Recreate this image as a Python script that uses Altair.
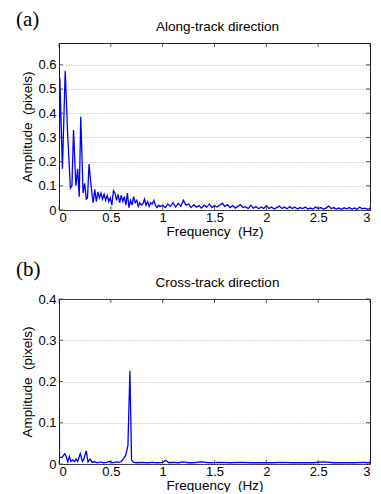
import altair as alt
import pandas as pd

# ---- Data ----
freq_a = [0.0, 0.008, 0.033, 0.06, 0.085, 0.11, 0.125, 0.14, 0.163, 0.18, 0.195, 0.21,
          0.232, 0.248, 0.263, 0.275, 0.29, 0.305, 0.32, 0.33, 0.345, 0.36, 0.375, 0.39,
          0.405, 0.42, 0.435, 0.45, 0.465, 0.48, 0.495, 0.51, 0.525, 0.54, 0.555, 0.57,
          0.585, 0.60, 0.615, 0.63, 0.645, 0.66, 0.675, 0.69, 0.705, 0.72, 0.735, 0.75,
          0.765, 0.78, 0.795, 0.81, 0.825, 0.84, 0.855, 0.87, 0.885, 0.90, 0.915, 0.93,
          0.945, 0.96, 0.975,
          1.0, 1.025, 1.05, 1.075, 1.1, 1.125, 1.15, 1.175, 1.2, 1.225, 1.25, 1.275,
          1.3, 1.325, 1.35, 1.375, 1.4, 1.425, 1.45, 1.475, 1.5, 1.525, 1.55, 1.575,
          1.6, 1.625, 1.65, 1.675, 1.7, 1.725, 1.75, 1.775, 1.8, 1.825, 1.85, 1.875,
          1.9, 1.925, 1.95, 1.975, 2.0, 2.025, 2.05, 2.075, 2.1, 2.125, 2.15, 2.175,
          2.2, 2.225, 2.25, 2.275, 2.3, 2.325, 2.35, 2.375, 2.4, 2.425, 2.45, 2.475,
          2.5, 2.525, 2.55, 2.575, 2.6, 2.625, 2.65, 2.675, 2.7, 2.725, 2.75, 2.775,
          2.8, 2.825, 2.85, 2.875, 2.9, 2.925, 2.95, 2.975, 3.0]
amp_a = [0.02, 0.547, 0.17, 0.575, 0.30, 0.09, 0.10, 0.33, 0.10, 0.17, 0.055, 0.385,
         0.07, 0.11, 0.045, 0.05, 0.19, 0.12, 0.06, 0.03, 0.085, 0.035, 0.075, 0.05,
         0.07, 0.045, 0.065, 0.04, 0.06, 0.035, 0.05, 0.02, 0.08, 0.07, 0.04, 0.065,
         0.03, 0.06, 0.035, 0.055, 0.02, 0.07, 0.01, 0.04, 0.02, 0.055, 0.03, 0.04,
         0.015, 0.03, 0.02, 0.025, 0.045, 0.02, 0.035, 0.015, 0.03, 0.025, 0.04, 0.02,
         0.01, 0.02, 0.015,
         0.02, 0.01, 0.025, 0.015, 0.03, 0.012, 0.028, 0.015, 0.04, 0.02, 0.025, 0.01,
         0.022, 0.012, 0.018, 0.008, 0.02, 0.012, 0.025, 0.01, 0.018, 0.012, 0.02, 0.028,
         0.015, 0.022, 0.01, 0.018, 0.008, 0.015, 0.022, 0.01, 0.014, 0.006, 0.02, 0.008,
         0.014, 0.005, 0.012, 0.006, 0.018, 0.006, 0.012, 0.004, 0.01, 0.016, 0.006, 0.012,
         0.005, 0.014, 0.006, 0.012, 0.004, 0.01, 0.006, 0.012, 0.004, 0.008, 0.004, 0.012,
         0.006, 0.01, 0.004, 0.008, 0.016, 0.006, 0.01, 0.004, 0.008, 0.003, 0.009, 0.005,
         0.01, 0.004, 0.008, 0.003, 0.012, 0.005, 0.008, 0.004, 0.006]

freq_b = [0.0, 0.005, 0.03, 0.055, 0.07, 0.085, 0.1, 0.115, 0.13, 0.15, 0.165, 0.18,
          0.205, 0.226, 0.24, 0.263, 0.28, 0.30, 0.32, 0.34, 0.37, 0.40, 0.43, 0.46,
          0.49, 0.52, 0.55, 0.58, 0.60, 0.62, 0.645, 0.665, 0.684, 0.70, 0.72, 0.75,
          0.80, 0.85, 0.90, 0.95, 1.00, 1.03, 1.06, 1.10, 1.15, 1.20, 1.25, 1.30,
          1.37, 1.45, 1.55, 1.65, 1.75, 1.85, 1.95, 2.05, 2.15, 2.25, 2.35, 2.45,
          2.55, 2.65, 2.75, 2.85, 2.95, 3.0]
amp_b = [0.4, 0.016, 0.016, 0.025, 0.018, 0.005, 0.018, 0.006, 0.01, 0.006, 0.012, 0.006,
         0.025, 0.006, 0.012, 0.032, 0.005, 0.012, 0.004, 0.006, 0.003, 0.005, 0.003, 0.004,
         0.006, 0.003, 0.005, 0.004, 0.006, 0.012, 0.022, 0.045, 0.226, 0.01, 0.004, 0.003,
         0.004, 0.003, 0.004, 0.003, 0.004, 0.009, 0.003, 0.004, 0.003, 0.005, 0.003, 0.003,
         0.005, 0.003, 0.004, 0.003, 0.004, 0.003, 0.003, 0.003, 0.004, 0.003, 0.003, 0.003,
         0.005, 0.003, 0.003, 0.003, 0.004, 0.003]

x_ticks = [0, 0.5, 1, 1.5, 2, 2.5, 3]
y_ticks_a = [0, 0.1, 0.2, 0.3, 0.4, 0.5, 0.6]
y_ticks_b = [0, 0.1, 0.2, 0.3, 0.4]

panel_labels = ["(a)", "(b)"]
panel_titles = ["Along-track direction", "Cross-track direction"]

W = 311
H_A = 167
H_B = 165
FONT = "Liberation Sans"
NB = "\u00a0"
X_TITLE = "Frequency" + NB + NB + "(Hz)"
Y_TITLE = "Amplitude" + NB + NB + "(pixels)"


def panel(freq, amp, y_max, y_ticks, label, label_y, title, H):
    df = pd.DataFrame({"f": freq, "a": amp})
    xs = alt.Scale(domain=[0, 3], nice=False, zero=False)
    ys = alt.Scale(domain=[0, y_max], nice=False)
    xax = alt.Axis(values=x_ticks, grid=False, ticks=False, domain=False,
                   labelPadding=1, titlePadding=0, format="~g", labelOverlap=False)
    yax = alt.Axis(values=y_ticks, grid=True, ticks=False, domain=False,
                   labelPadding=3, titlePadding=3, format="~g", labelOverlap=False,
                   gridDash=[1, 2], gridColor="#999999", gridWidth=0.8)

    def X(field):
        return alt.X(field, scale=xs, title=X_TITLE, axis=xax)

    def Y(field):
        return alt.Y(field, scale=ys, title=Y_TITLE, axis=yax)

    line = alt.Chart(df).mark_line(color="#0000ff", strokeWidth=1.3, clip=True).encode(
        x=X("f:Q"), y=Y("a:Q"))
    xt = pd.DataFrame({"f": x_ticks})
    yt = pd.DataFrame({"a": y_ticks})
    xb = alt.Chart(xt).mark_rule(color="#333", strokeWidth=0.8).encode(
        x=X("f:Q"), y=alt.value(H), y2=alt.value(H - 4))
    xtop = alt.Chart(xt).mark_rule(color="#333", strokeWidth=0.8).encode(
        x=X("f:Q"), y=alt.value(0), y2=alt.value(4))
    yl = alt.Chart(yt).mark_rule(color="#333", strokeWidth=0.8).encode(
        y=Y("a:Q"), x=alt.value(0), x2=alt.value(4))
    yr = alt.Chart(yt).mark_rule(color="#333", strokeWidth=0.8).encode(
        y=Y("a:Q"), x=alt.value(W), x2=alt.value(W - 4))
    lab = alt.Chart(pd.DataFrame({"t": [label]})).mark_text(
        font="Liberation Serif", fontSize=21, align="left", baseline="top", color="black"
    ).encode(text="t:N", x=alt.value(-43), y=alt.value(label_y))
    ttl = alt.Chart(pd.DataFrame({"t": [title]})).mark_text(
        font=FONT, fontSize=13.5, align="center", baseline="middle", color="black"
    ).encode(text="t:N", x=alt.value(W / 2 + 3), y=alt.value(-16))
    return alt.layer(line, xb, xtop, yl, yr, lab, ttl).properties(width=W, height=H)


pa = panel(freq_a, amp_a, 0.69, y_ticks_a, panel_labels[0], -34, panel_titles[0], H_A)
pb = panel(freq_b, amp_b, 0.4, y_ticks_b, panel_labels[1], -40, panel_titles[1], H_B)

chart = alt.vconcat(pa, pb, spacing=20).properties(
    padding={"left": 7, "top": 0, "right": 0, "bottom": 0}
).configure_view(
    stroke="#222", strokeWidth=1
).configure_axis(
    labelFont=FONT, labelFontSize=13, labelColor="black",
    titleFont=FONT, titleFontSize=13.5, titleFontWeight="normal", titleColor="black",
)

chart.save("out.html", embed_options={"renderer": "svg", "actions": False})
